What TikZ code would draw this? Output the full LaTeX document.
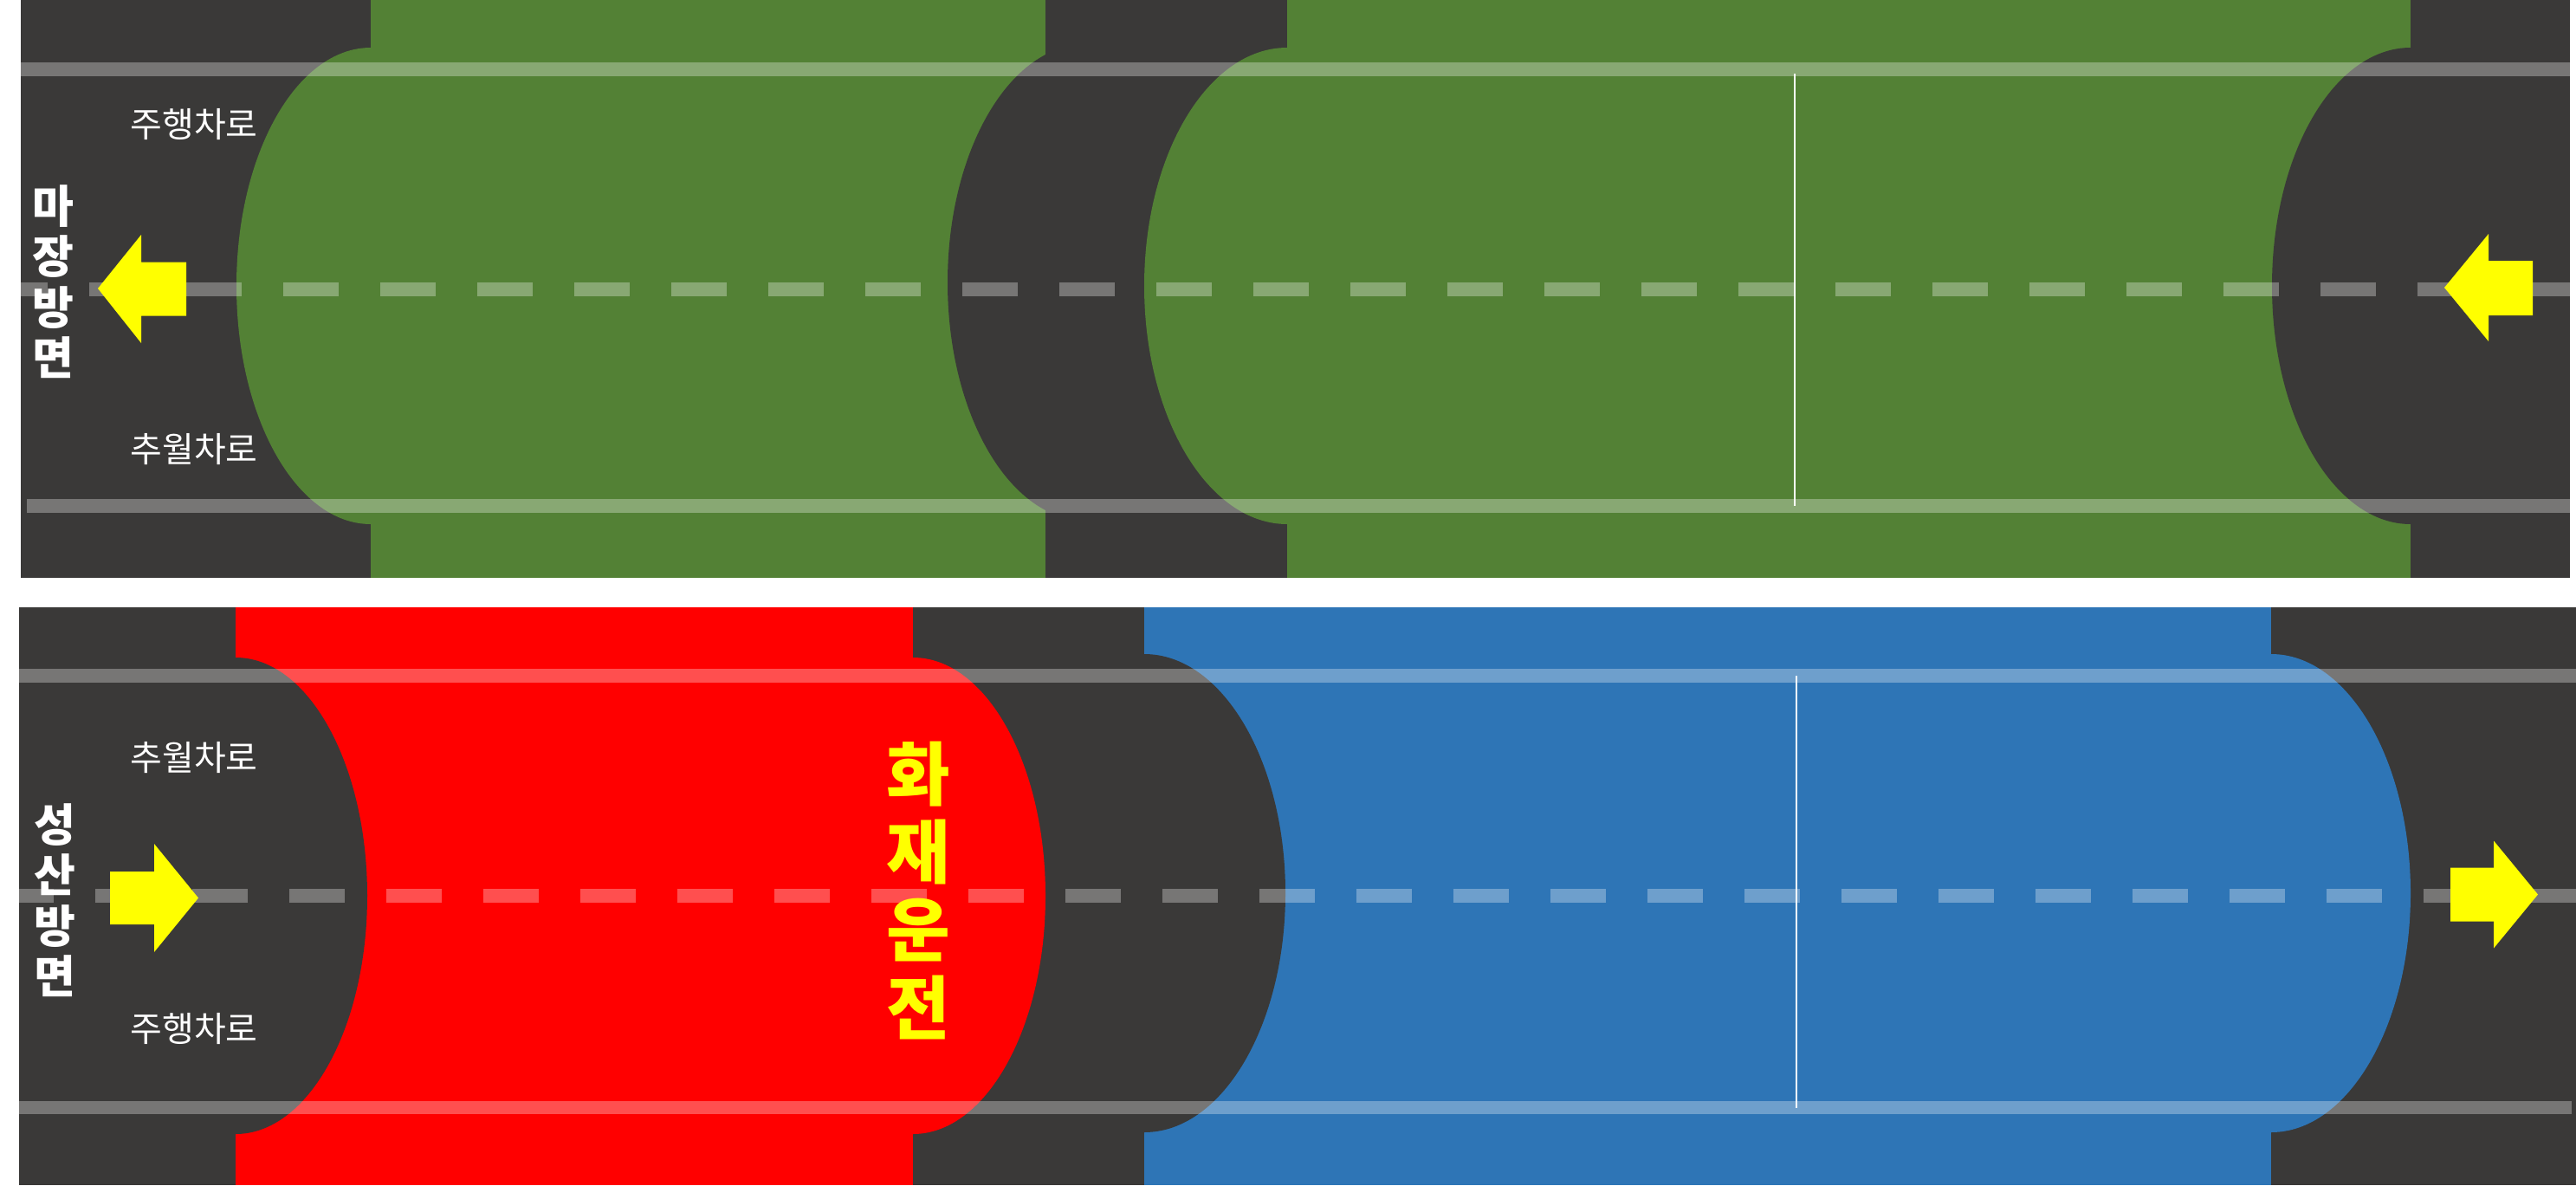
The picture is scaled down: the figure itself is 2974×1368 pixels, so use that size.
\documentclass[tikz,border=0pt]{standalone}
\usepackage{fontspec}
\newfontfamily\kr{Noto Sans CJK KR}
\definecolor{road}{HTML}{3A3938}
\definecolor{tgreen}{HTML}{538135}
\definecolor{tblue}{HTML}{2E75B6}
\definecolor{tred}{HTML}{FF0000}
\definecolor{arrowy}{HTML}{FFFF00}
\begin{document}
\begin{tikzpicture}[x=1pt,y=-1pt,
  lane/.style={line width=15.5pt, draw=white, draw opacity=0.31},
  dashlane/.style={lane, dash pattern=on 64pt off 48pt},
  sep/.style={draw=white, line width=1.5pt},
  dirarrow/.style={fill=arrowy},
  lanelbl/.style={font=\kr\fontsize{40}{46}\selectfont, text=white, inner sep=0pt},
  dirlbl/.style={font=\kr\bfseries\fontsize{52}{58.5}\selectfont, text=white, align=center, inner sep=0pt},
  firelbl/.style={font=\kr\bfseries\fontsize{80}{90}\selectfont, text=arrowy, align=center, inner sep=0pt}]
\useasboundingbox (0,0) rectangle (2974,1368);
\fill[white] (0,0) rectangle (2974,1368);
% road panels
\fill[road] (24,0) rectangle (2967,667);
\fill[road] (22,700.5) rectangle (2974,1368);
% green tunnel 1
\fill[tgreen] (428,0) rectangle (1207,667);
\begin{scope}
  \clip (428,0) rectangle (1207,667);
  \fill[road] (1254,326) ellipse [x radius=160, y radius=275];
\end{scope}
\fill[tgreen] (428,330) ellipse [x radius=155, y radius=275];
% green tunnel 2
\fill[tgreen] (1486,0) rectangle (2783,667);
\begin{scope}
  \clip (1486,0) rectangle (2783,667);
  \fill[road] (2783,330) ellipse [x radius=160, y radius=275];
\end{scope}
\fill[tgreen] (1486,330) ellipse [x radius=165, y radius=275];
% red tunnel
\fill[tred] (272,700.5) rectangle (1054,1368);
\begin{scope}
  \clip (272,700.5) rectangle (1054,1368);
  \fill[road] (272,1034) ellipse [x radius=152, y radius=275];
\end{scope}
\fill[tred] (1054,1034) ellipse [x radius=153, y radius=275];
% blue tunnel
\fill[tblue] (1321,700.5) rectangle (2622,1368);
\begin{scope}
  \clip (1321,700.5) rectangle (2622,1368);
  \fill[road] (1321,1031) ellipse [x radius=163, y radius=276];
\end{scope}
\fill[tblue] (2622,1031) ellipse [x radius=161, y radius=276];
% lane lines
\draw[lane] (24,80) -- (2967,80);
\draw[lane] (31,584) -- (2967,584);
\draw[dashlane, dash phase=33pt] (24,334) -- (2967,334);
\draw[lane] (22,780) -- (2974,780);
\draw[lane] (22,1278.5) -- (2969,1278.5);
\draw[dashlane, dash phase=24pt] (22,1034) -- (2974,1034);
% separators
\draw[sep] (2072,85) -- (2072,584);
\draw[sep] (2074,780) -- (2074,1279);
% arrows
\fill[dirarrow] (113,333) -- (163,271) -- (163,302.5) -- (215,302.5) -- (215,364.5) -- (163,364.5) -- (163,396) -- cycle;
\fill[dirarrow] (2822,332) -- (2873,270) -- (2873,301) -- (2924,301) -- (2924,364) -- (2873,364) -- (2873,394) -- cycle;
\fill[dirarrow] (229,1036.5) -- (178,974) -- (178,1006) -- (127,1006) -- (127,1067) -- (178,1067) -- (178,1099) -- cycle;
\fill[dirarrow] (2930,1032.5) -- (2879,970.5) -- (2879,1001.5) -- (2829,1001.5) -- (2829,1063.5) -- (2879,1063.5) -- (2879,1094.5) -- cycle;
% labels
\node[lanelbl] (tl1) at (224,144) {주행차로};
\node[lanelbl] (tl2) at (224,519) {추월차로};
\node[lanelbl] (bl1) at (224,875) {추월차로};
\node[lanelbl] (bl2) at (224,1188) {주행차로};
\node[dirlbl] (dtop) at (61,325) {마\\장\\방\\면};
\node[dirlbl] (dbot) at (63,1039) {성\\산\\방\\면};
\node[firelbl] (fire) at (1060,1028) {화\\재\\운\\전};
\end{tikzpicture}
\end{document}
